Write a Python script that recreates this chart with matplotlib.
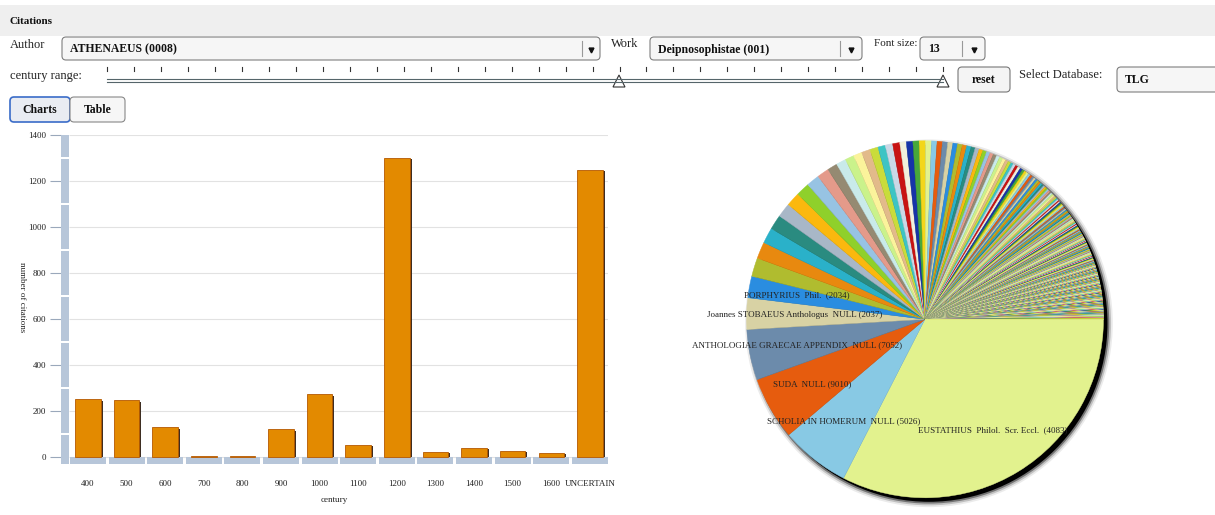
import matplotlib
matplotlib.use('Agg')
import matplotlib.pyplot as plt
from matplotlib.patches import FancyBboxPatch, Rectangle, Circle, Polygon
import numpy as np

W, H = 1215, 515
SERIF = ['Liberation Serif', 'DejaVu Serif']

# bar chart data
centuries = ['400', '500', '600', '700', '800', '900', '1000', '1100', '1200',
             '1300', '1400', '1500', '1600', 'UNCERTAIN']
citations = [250, 245, 128, 5, 3, 119, 272, 52, 1302, 20, 38, 26, 16, 1248]

# pie chart data (citing authors, sorted by count)
author_labels = ['EUSTATHIUS  Philol.  Scr. Eccl.  (4083)',
                 'SCHOLIA IN HOMERUM  NULL (5026)',
                 'SUDA  NULL (9010)',
                 'ANTHOLOGIAE GRAECAE APPENDIX  NULL (7052)',
                 'Joannes STOBAEUS Anthologus  NULL (2037)',
                 'PORPHYRIUS  Phil.  (2034)']
top_counts = [1215, 234, 213, 171, 106, 73]
mid_counts = [63, 56, 53, 50, 48, 47, 46, 44, 40, 34, 33, 30, 29, 29, 28, 25, 25,
              24, 22, 22, 21, 21, 20, 19, 18, 18, 17, 16, 16, 15, 15, 14, 14, 13,
              13, 12, 12, 12, 11, 11, 11, 10, 10]
# long tail: number of authors cited n times
tail_values = [9, 8, 7, 6, 5, 4, 3, 2, 1]
tail_authors = [5, 5, 6, 6, 8, 14, 22, 60, 190]

palette = ['#e2f28e', '#88c9e4', '#e65c0e', '#6c8bab', '#d8d2a4', '#2a8de0',
           '#b0bc2f', '#e8890f', '#2ab1c9', '#2a8b80', '#a8b7c7', '#fbb80e',
           '#8fd02b', '#97c3e3', '#e49a8a', '#958a72', '#c9eaea', '#caf28b',
           '#fbf39b', '#e2ba8a', '#c9dc3b', '#3ec4c4', '#cad8e6', '#c81313',
           '#f2f0dc', '#1634a8', '#48a83b', '#f3d61b']


def fa(x0, y0, x1, y1):
    return [x0 / W, 1 - y1 / H, (x1 - x0) / W, (y1 - y0) / H]


fig = plt.figure(figsize=(W / 100, H / 100), dpi=100)
ui = fig.add_axes([0, 0, 1, 1])
ui.set_xlim(0, W)
ui.set_ylim(H, 0)
ui.axis('off')


def box(x0, y0, x1, y1, fc='#f6f6f6', ec='#7f7f7f', lw=0.8):
    ui.add_patch(FancyBboxPatch((x0, y0), x1 - x0, y1 - y0,
                                boxstyle='round,pad=0,rounding_size=4',
                                fc=fc, ec=ec, lw=lw))


def dropdown(x0, x1, y0, y1, text, sep):
    box(x0, y0, x1, y1)
    ui.text(x0 + 8, (y0 + y1) / 2 + 1, text, family=SERIF, weight='bold',
            fontsize=8.5, va='center', color='#111')
    ui.plot([sep, sep], [y0 + 4, y1 - 4], color='#999999', lw=0.8)
    ui.plot([(sep + x1) / 2], [(y0 + y1) / 2 + 1], marker='v', ms=3.5,
            color='#111')


# header
ui.add_patch(Rectangle((0, 5), W, 31, fc='#efefef', ec='none'))
ui.text(10, 21, 'Citations', family=SERIF, weight='bold', fontsize=8,
        va='center', color='#111')

ui.text(10, 45, 'Author', family=SERIF, fontsize=9, va='center', color='#222')
dropdown(62, 600, 37, 60, 'ATHENAEUS (0008)', 582)
ui.text(611, 44, 'Work', family=SERIF, fontsize=9, va='center', color='#222')
dropdown(650, 862, 37, 60, 'Deipnosophistae (001)', 840)
ui.text(874, 44, 'Font size:', family=SERIF, fontsize=8, va='center', color='#222')
dropdown(920, 985, 37, 60, '13', 962)

# century range slider
ui.text(10, 76, 'century range:', family=SERIF, fontsize=9, va='center', color='#222')
ui.plot([107, 943], [78.5, 78.5], color='#55656a', lw=0.8)
ui.plot([107, 943], [81.5, 81.5], color='#55656a', lw=0.8)
for tx in np.linspace(107.3, 943, 32):
    ui.plot([tx, tx], [67, 71], color='#333333', lw=0.8)
for hx in [619, 943]:
    ui.add_patch(Polygon([(hx, 75), (hx - 6, 87), (hx + 6, 87)], closed=True,
                         fc='white', ec='#333333', lw=0.8))
box(958, 67, 1010, 92, fc='#f4f4f4', ec='#777777')
ui.text(984, 80, 'reset', family=SERIF, weight='bold', fontsize=8.5,
        ha='center', va='center', color='#111')
ui.text(1019, 75, 'Select Database:', family=SERIF, fontsize=9, va='center', color='#222')
box(1117, 67, 1225, 92)
ui.text(1125, 80, 'TLG', family=SERIF, weight='bold', fontsize=8.5,
        va='center', color='#111')

# chart / table toggle
box(10, 97, 70, 122, fc='#e9ecf2', ec='#3a6cc8', lw=1.2)
box(70, 97, 125, 122, fc='#f6f6f6', ec='#888888')
ui.text(40, 110, 'Charts', family=SERIF, weight='bold', fontsize=8.5,
        ha='center', va='center', color='#111')
ui.text(97.5, 110, 'Table', family=SERIF, weight='bold', fontsize=8.5,
        ha='center', va='center', color='#111')

# ---------------- bar chart ----------------
ax = fig.add_axes(fa(61, 135, 608, 464))
ax.set_facecolor('none')
x = np.arange(len(centuries))
band_lo = -31.8
ax.set_xlim(-0.6995, 13.47)
ax.set_ylim(band_lo, 1400)
for s in ax.spines.values():
    s.set_visible(False)

yticks = list(range(0, 1401, 200))
ax.hlines(yticks, -0.492, 13.47, color='#e2e2e2', lw=0.8, zorder=1)

# axis bands
band_col = '#b7c6d9'
edges = [band_lo] + [t + 100 for t in yticks[:-1]] + [1400]
for i in range(len(edges) - 1):
    lo = edges[i] + (4 if i > 0 else 0)
    hi = edges[i + 1] - (4 if i < len(edges) - 2 else 0)
    ax.add_patch(Rectangle((-0.6995, lo), 0.2075, hi - lo, fc=band_col,
                           ec='none', zorder=2))
for xi in x:
    ax.add_patch(Rectangle((xi - 0.466, band_lo), 0.932, -band_lo, fc=band_col,
                           ec='none', zorder=2))

shadow_h = [max(v - 6, 0) for v in citations]
ax.bar(x + 0.05, shadow_h, width=0.66, color='#3e2e22', zorder=3)
ax.bar(x, citations, width=0.66, color='#e38a00', edgecolor='#b55800',
       lw=0.6, zorder=4)

ax.set_yticks(yticks)
ax.set_yticklabels([str(t) for t in yticks], family=SERIF, fontsize=6.5)
ax.tick_params(axis='y', length=8, color='#9aa8bb', pad=2.5, labelcolor='#222')
ax.set_xticks(x)
ax.set_xticklabels(centuries, family=SERIF, fontsize=6.5)
ax.tick_params(axis='x', length=0, pad=11.5, labelcolor='#222')

ui.text(334.5, 500, 'century', family=SERIF, fontsize=6.5, ha='center',
        va='center', color='#222')
ui.text(22, 297, 'number of citations', family=SERIF, fontsize=6.5,
        rotation=-90, ha='center', va='center', color='#222')

# ---------------- pie chart ----------------
R = 178.5
cx, cy = 925, 319.3
pa = fig.add_axes(fa(cx - 190, cy - 190, cx + 190, cy + 190))

counts = top_counts + mid_counts + list(np.repeat(tail_values, tail_authors))
colors = [palette[i % len(palette)] for i in range(len(counts))]
labels = author_labels + [''] * (len(counts) - len(author_labels))

off = 4 / R
for r, a in [(1.03, 0.08), (1.02, 0.18), (1.01, 0.4), (1.0, 1.0)]:
    pa.add_patch(Circle((off, -off), r, fc='black', ec='none', alpha=a, zorder=0.5))

wedges, texts = pa.pie(counts, colors=colors, startangle=0, counterclock=False,
                       labels=labels, labeldistance=0.73,
                       textprops=dict(family=SERIF, fontsize=6.5, color='#222'),
                       wedgeprops=dict(linewidth=0))
for w in wedges:
    w.set_edgecolor(w.get_facecolor())
    w.set_linewidth(0.3)
    w.set_zorder(1)
for t in texts:
    t.set_ha('center')
    t.set_va('center')
    t.set_zorder(3)

pa.set_xlim(-190 / R, 190 / R)
pa.set_ylim(-190 / R, 190 / R)
pa.set_aspect('equal')
pa.axis('off')

fig.savefig('out.png', dpi=100)
